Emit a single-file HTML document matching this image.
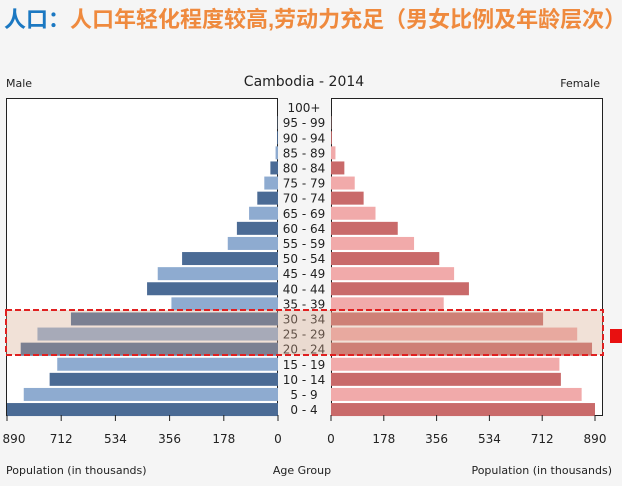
<!DOCTYPE html>
<html><head><meta charset="utf-8"><style>
body{margin:0;background:#f5f5f5;}
svg{display:block;font-family:"DejaVu Sans","Liberation Sans",sans-serif;}
</style></head><body>
<svg width="622" height="486" viewBox="0 0 622 486">
<rect width="622" height="486" fill="#f5f5f5"/>
<text x="4" y="27" font-family="'Liberation Sans','Noto Sans CJK SC',sans-serif" font-weight="bold" font-size="22"><tspan fill="#1b78c2">人口：</tspan><tspan fill="#ef8a3e">人口年轻化程度较高,劳动力充足（男女比例及年龄层次）</tspan></text>
<text x="6" y="87" font-size="11" fill="#222">Male</text>
<text x="600" y="87" font-size="11" fill="#222" text-anchor="end">Female</text>
<text x="304" y="86" font-size="14" fill="#222" text-anchor="middle">Cambodia - 2014</text>
<rect x="6.5" y="98.5" width="271" height="317" fill="#fff" stroke="#222"/>
<rect x="331.5" y="98.5" width="271" height="317" fill="#fff" stroke="#222"/>
<g id="bars"></g>
<g id="labels"></g>
<g id="axes"></g>
<rect x="6" y="310" width="597" height="45" fill="rgba(215,170,140,0.35)" stroke="#e02020" stroke-width="2" stroke-dasharray="6,3"/>
<rect x="610" y="329" width="12" height="14" fill="#e81010"/>
<text x="6" y="474" font-size="11" fill="#222">Population (in thousands)</text>
<text x="302" y="474" font-size="11" fill="#222" text-anchor="middle">Age Group</text>
<text x="612" y="474" font-size="11" fill="#222" text-anchor="end">Population (in thousands)</text>
</svg>
<script>
const ageGroups=["100+","95 - 99","90 - 94","85 - 89","80 - 84","75 - 79","70 - 74","65 - 69","60 - 64","55 - 59","50 - 54","45 - 49","40 - 44","35 - 39","30 - 34","25 - 29","20 - 24","15 - 19","10 - 14","5 - 9","0 - 4"];
const maleValues=[0,1,3,8,25,45,68,95,135,165,315,395,430,350,680,790,845,725,750,835,890];
const femaleValues=[0,1,3,15,45,80,110,150,225,280,365,415,465,380,715,830,880,770,775,845,890];
const tickLabels=[0,178,356,534,712,890];
const maxVal=890;
const NS="http://www.w3.org/2000/svg";
const L0=278,L1=7,R0=331,R1=595,top0=100,step=15.1,bh=13;
const xm=v=>L0-(L0-L1)*v/maxVal, xf=v=>R0+(R1-R0)*v/maxVal, yc=i=>top0+step*i+step/2;
function mk(t,a,p){const e=document.createElementNS(NS,t);for(const k in a)e.setAttribute(k,a[k]);document.getElementById(p).appendChild(e);return e;}
ageGroups.forEach((g,i)=>{
  const dark=(ageGroups.length-1-i)%2===0;
  const m=mk('rect',{x:xm(maleValues[i]),y:yc(i)-bh/2,width:L0-xm(maleValues[i]),height:bh,fill:dark?'#4b6b95':'#8eabd0'},'bars');
  
  
  const f=mk('rect',{x:R0,y:yc(i)-bh/2,width:xf(femaleValues[i])-R0,height:bh,fill:dark?'#c96a6a':'#f1aaaa'},'bars');
  
  
  const t=mk('text',{x:304,y:yc(i)+4.5,'font-size':12,fill:'#222','text-anchor':'middle'},'labels');
  t.textContent=g;
  
  
});
tickLabels.forEach(v=>{
  [xm(v),xf(v)].forEach(x=>{
    const l=mk('line',{x1:x,x2:x,y1:415,y2:421,stroke:'#222'},'axes');
    
    
    const t=mk('text',{x:Math.max(x,14),y:443,'font-size':12,fill:'#222','text-anchor':'middle'},'axes');
    t.textContent=v;
    
    
  });
});
</script>
</body></html>
